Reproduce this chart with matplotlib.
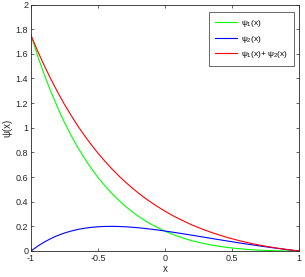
import matplotlib
matplotlib.use("Agg")
import matplotlib.pyplot as plt
import numpy as np

x_vals = [-1.00, -0.95, -0.90, -0.85, -0.80, -0.75, -0.70, -0.65, -0.60, -0.55,
          -0.50, -0.45, -0.40, -0.35, -0.30, -0.25, -0.20, -0.15, -0.10, -0.05,
          0.00, 0.05, 0.10, 0.15, 0.20, 0.25, 0.30, 0.35, 0.40, 0.45,
          0.50, 0.55, 0.60, 0.65, 0.70, 0.75, 0.80, 0.85, 0.90, 0.95, 1.00]

psi1 = [1.750, 1.582, 1.429, 1.289, 1.161, 1.043, 0.937, 0.839, 0.751, 0.670,
        0.597, 0.531, 0.471, 0.416, 0.367, 0.323, 0.283, 0.247, 0.215, 0.187,
        0.161, 0.138, 0.118, 0.100, 0.084, 0.0705, 0.0584, 0.0479, 0.0388, 0.0310,
        0.0244, 0.0188, 0.0141, 0.0103, 0.0072, 0.0048, 0.0029, 0.0015, 0.0007, 0.0002, 0.0]

psi2 = [0.0, 0.0394, 0.0732, 0.1019, 0.1260, 0.1459, 0.1621, 0.1749, 0.1848, 0.1919,
        0.1966, 0.1993, 0.2000, 0.1991, 0.1968, 0.1932, 0.1886, 0.1830, 0.1766, 0.1696,
        0.1620, 0.1540, 0.1457, 0.1371, 0.1283, 0.1194, 0.1104, 0.1015, 0.0926, 0.0838,
        0.0751, 0.0665, 0.0582, 0.0500, 0.0421, 0.0344, 0.0270, 0.0198, 0.0129, 0.0063, 0.0]

x_ticks = [-1, -0.5, 0, 0.5, 1]
x_ticklabels = ["-1", "-0.5", "0", "0.5", "1"]
y_ticks = [0, 0.2, 0.4, 0.6, 0.8, 1.0, 1.2, 1.4, 1.6, 1.8, 2.0]
y_ticklabels = ["0", "0.2", "0.4", "0.6", "0.8", "1", "1.2", "1.4", "1.6", "1.8", "2"]

labels = [r"$\psi_1$(x)", r"$\psi_2$(x)", r"$\psi_1$(x)+ $\psi_2$(x)"]

plt.rcParams['font.family'] = ['Liberation Sans', 'DejaVu Sans']
plt.rcParams['mathtext.fontset'] = 'custom'
plt.rcParams['mathtext.rm'] = 'Liberation Sans'
plt.rcParams['mathtext.it'] = 'Liberation Sans'

fig = plt.figure(figsize=(3.05, 2.77), dpi=100)
ax = fig.add_axes([31/305, 26/277, 268/305, 246.5/277])

x = np.array(x_vals)
p1 = np.array(psi1)
p2 = np.array(psi2)

ax.plot(x, p1, color=(0, 1, 0), lw=0.8, label=labels[0])
ax.plot(x, p2, color=(0, 0, 1), lw=0.8, label=labels[1])
ax.plot(x, p1 + p2, color=(1, 0, 0), lw=0.8, label=labels[2])

ax.set_xlim(-1, 1)
ax.set_ylim(0, 2)
ax.set_xticks(x_ticks)
ax.set_xticklabels(x_ticklabels)
ax.set_yticks(y_ticks)
ax.set_yticklabels(y_ticklabels)
ax.tick_params(direction='in', length=2.5, width=0.5, labelsize=6.5,
               top=True, right=True, colors='#262626', pad=2)
for s in ax.spines.values():
    s.set_linewidth(0.6)
    s.set_color('#262626')

ax.set_xlabel("x", fontsize=7, labelpad=1, color='#262626')
ax.set_ylabel("ψ(x)", fontsize=7, labelpad=2, color='#262626')

leg = ax.legend(loc='upper right', fontsize=6, frameon=True, fancybox=False,
                edgecolor='#262626', handlelength=2.7, borderpad=0.7,
                labelspacing=0.55, handletextpad=0.4,
                bbox_to_anchor=(0.98, 0.968), borderaxespad=0.0)
leg.get_frame().set_linewidth(0.6)

fig.savefig("out.png", dpi=100)
